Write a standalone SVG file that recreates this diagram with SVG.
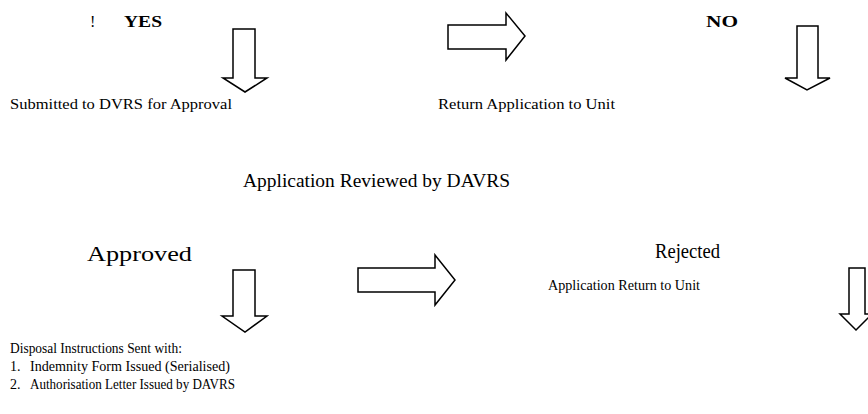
<svg xmlns="http://www.w3.org/2000/svg" width="868" height="414" viewBox="0 0 868 414">
<style>
text{font-family:"Liberation Serif","Times New Roman",serif;fill:#000}
.b{font-weight:bold}
.arrow{fill:#fff;stroke:#000;stroke-width:1.5;stroke-linejoin:miter}
</style>
<rect width="868" height="414" fill="#fff"/>
<g id="yes"><text x="90" y="27" font-size="16">!</text><text x="124" y="27" font-size="17" class="b" textLength="38" lengthAdjust="spacingAndGlyphs">YES</text></g>
<g id="no"><text x="706" y="27" font-size="17" class="b" textLength="32" lengthAdjust="spacingAndGlyphs">NO</text></g>
<g id="submitted"><text x="10" y="109" font-size="15" textLength="222" lengthAdjust="spacingAndGlyphs">Submitted to DVRS for Approval</text></g>
<g id="return"><text x="438" y="109" font-size="15" textLength="177" lengthAdjust="spacingAndGlyphs">Return Application to Unit</text></g>
<g id="reviewed"><text x="243" y="187" font-size="18" textLength="267" lengthAdjust="spacingAndGlyphs">Application Reviewed by DAVRS</text></g>
<g id="approved"><text x="87" y="261" font-size="21" textLength="105" lengthAdjust="spacingAndGlyphs">Approved</text></g>
<g id="rejected"><text x="655" y="258" font-size="20" textLength="65" lengthAdjust="spacingAndGlyphs">Rejected</text></g>
<g id="appreturn"><text x="548" y="290" font-size="15" textLength="152" lengthAdjust="spacingAndGlyphs">Application Return to Unit</text></g>
<g id="disposal">
<text x="10" y="353" font-size="14" textLength="172" lengthAdjust="spacingAndGlyphs">Disposal Instructions Sent with:</text>
<text x="10" y="371" font-size="14"><tspan>1.</tspan><tspan x="30" textLength="200" lengthAdjust="spacingAndGlyphs">Indemnity Form Issued (Serialised)</tspan></text>
<text x="10" y="389" font-size="14"><tspan>2.</tspan><tspan x="30" textLength="205" lengthAdjust="spacingAndGlyphs">Authorisation Letter Issued by DAVRS</tspan></text>
</g>
<g id="connectors">
<path class="arrow" d="M233,29 H255 V78 H267 L245,92 L223,78 H233 Z"/>
<path class="arrow" d="M448,25 H506 V13 L525,36 L506,60 V49 H448 Z"/>
<path class="arrow" d="M797,26 H818 V78 H830 L807,90 L785,78 H797 Z"/>
<path class="arrow" d="M233,270 H255 V316 H267 L245,332 L222,316 H233 Z"/>
<path class="arrow" d="M358,268 H435 V255 L455,280 L435,305 V292 H358 Z"/>
<path class="arrow" d="M849,268 H865 V314 H872 L856,330 L840,314 H849 Z"/>
</g>
</svg>
